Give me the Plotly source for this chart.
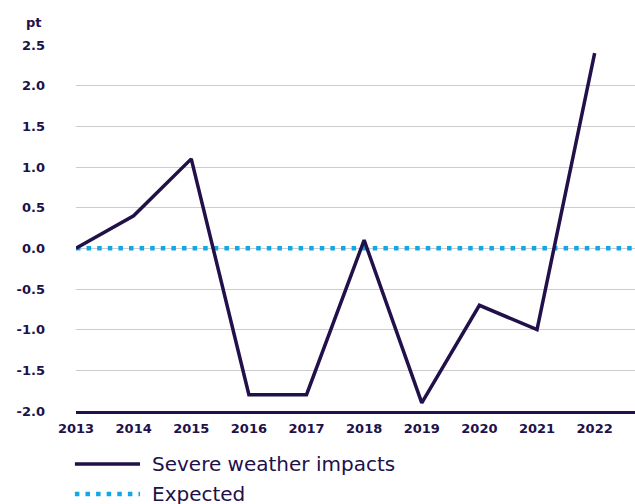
import plotly.graph_objects as go

years = ["2013", "2014", "2015", "2016", "2017", "2018", "2019", "2020", "2021", "2022"]
severe = [0.0, 0.4, 1.1, -1.8, -1.8, 0.1, -1.9, -0.7, -1.0, 2.4]
expected = [0.0] * len(years)
y_ticks = [-2.0, -1.5, -1.0, -0.5, 0.0, 0.5, 1.0, 1.5, 2.0, 2.5]
y_labels = [f"{v:.1f}" for v in y_ticks]

DARK = "#21104a"
BLUE = "#12a7e6"
TICKFONT = "DejaVu Sans"
LEGFONT = "DejaVu Sans"

fig = go.Figure()
# expected line extends across full axis width
fig.add_trace(go.Scatter(
    x=list(range(len(years))) + [9.7], y=expected + [0.0],
    mode="lines", line=dict(color=BLUE, width=4.5, dash="4.5px,6.1px"),
    showlegend=False, hoverinfo="skip"))
fig.add_trace(go.Scatter(
    x=list(range(len(years))), y=severe, mode="lines",
    line=dict(color=DARK, width=3.5), showlegend=False))

fig.update_layout(
    width=635, height=504,
    margin=dict(l=76, r=0, t=45, b=93),
    plot_bgcolor="white", paper_bgcolor="white",
    font=dict(family=TICKFONT, color=DARK),
    showlegend=False,
)
fig.update_xaxes(
    range=[0, 9.7], tickmode="array", tickvals=list(range(len(years))), ticktext=years,
    showgrid=False, zeroline=False, showline=True, linecolor=DARK, linewidth=2.5,
    ticks="", ticklabelstandoff=4,
    tickfont=dict(family=TICKFONT, size=13, color=DARK, weight="bold"),
)
fig.update_yaxes(
    range=[-2.0, 2.5], tickmode="array", tickvals=y_ticks, ticktext=y_labels,
    showgrid=True, gridcolor="#cccccc", gridwidth=1, zeroline=False, showline=False,
    ticks="", ticklabelstandoff=30,
    tickfont=dict(family=TICKFONT, size=13, color=DARK, weight="bold"),
)

# unit label
fig.add_annotation(text="pt", xref="paper", yref="paper", x=-0.057, y=1.062,
                   xanchor="right", yanchor="middle", showarrow=False,
                   font=dict(family=TICKFONT, size=13, color=DARK, weight="bold"))

# legend (drawn manually for long symbol samples)
fig.add_shape(type="line", xref="paper", yref="paper", x0=-0.002, x1=0.1145,
              y0=-0.1448, y1=-0.1448, line=dict(color=DARK, width=3.5))
fig.add_shape(type="line", xref="paper", yref="paper", x0=-0.002, x1=0.1145,
              y0=-0.2268, y1=-0.2268, line=dict(color=BLUE, width=4.5, dash="4.5px,6.1px"))
fig.add_annotation(text="Severe weather impacts", xref="paper", yref="paper",
                   x=0.1324, y=-0.1448, xanchor="left", yanchor="middle", showarrow=False,
                   font=dict(family=LEGFONT, size=20, color=DARK))
fig.add_annotation(text="Expected", xref="paper", yref="paper",
                   x=0.1324, y=-0.2268, xanchor="left", yanchor="middle", showarrow=False,
                   font=dict(family=LEGFONT, size=20, color=DARK))

fig.write_html("out.html")
